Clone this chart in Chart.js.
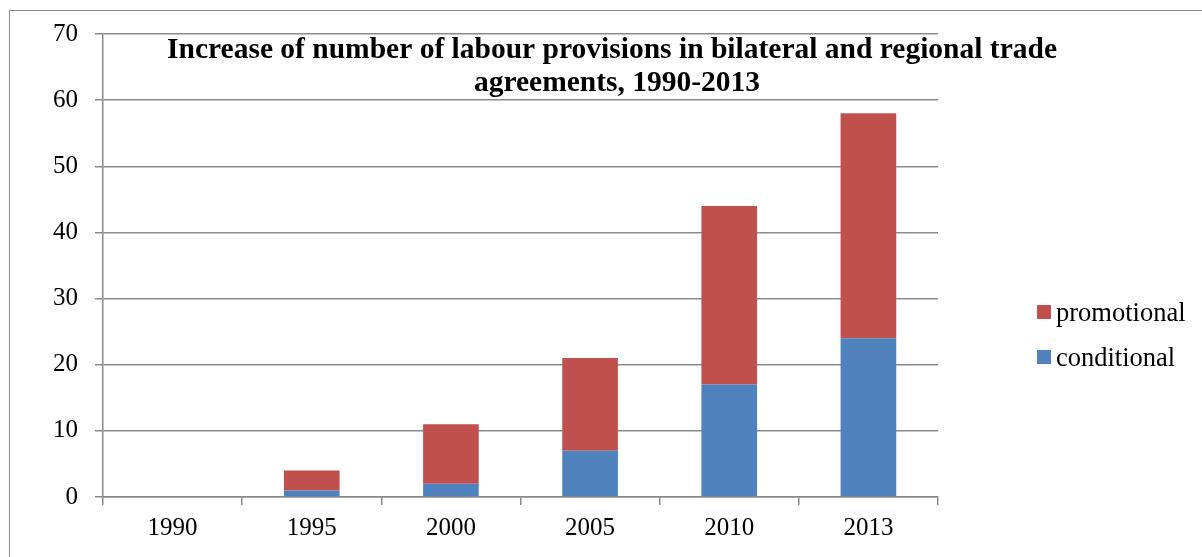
<!DOCTYPE html>
<html>
<head>
<meta charset="utf-8">
<script src="https://cdn.jsdelivr.net/npm/chart.js@4"></script>
<style>
    html, body { margin: 0; padding: 0; background: #fff; overflow: hidden; }
    #wrap { position: relative; width: 1202px; height: 557px; }
    #frame { position: absolute; left: 9px; top: 10px; width: 1210px; height: 560px; border: 1.5px solid #8a8a8a; box-sizing: border-box; pointer-events: none; }
</style>
</head>
<body>
<div id="wrap">
    <canvas id="tradeChart" width="1202" height="557"></canvas>
    <div id="frame"></div>
</div>
<script>
// Labour provisions in trade agreements
const years = ['1990', '1995', '2000', '2005', '2010', '2013'];
const conditional = [0, 1, 2, 7, 17, 24];
const promotional = [0, 3, 9, 14, 27, 34];
const titleLines = ['Increase of number of labour provisions in bilateral and regional trade', 'agreements, 1990-2013'];

const FONT = '"Liberation Serif", "Times New Roman", serif';
const GRID = '#8a8a8a';

// title sits over the plot, like the original
const titlePlugin = {
    id: 'overTitle',
    afterDraw(chart) {
        const c = chart.ctx;
        c.save();
        c.fillStyle = '#000';
        c.font = 'bold 29.5px ' + FONT;
        c.textAlign = 'center';
        c.textBaseline = 'alphabetic';
        c.fillText(titleLines[0], 612, 58);
        c.fillText(titleLines[1], 617, 91);
        c.restore();
    }
};

// legend drawn by hand so it can sit where the original has it
const sideLegend = {
    id: 'sideLegend',
    afterDraw(chart) {
        const c = chart.ctx;
        const items = chart.data.datasets.slice().reverse();
        c.save();
        c.font = '26.5px ' + FONT;
        c.textBaseline = 'alphabetic';
        c.textAlign = 'left';
        items.forEach((ds, i) => {
            const y = 305 + i * 45;
            c.fillStyle = ds.backgroundColor;
            c.fillRect(1037, y, 14, 14);
            c.fillStyle = '#000';
            c.fillText(ds.label, 1056, y + 16);
        });
        c.restore();
    }
};

new Chart(document.getElementById('tradeChart'), {
    type: 'bar',
    data: {
        labels: years,
        datasets: [
            {
                label: 'conditional',
                data: conditional,
                backgroundColor: '#4F81BD',
                borderWidth: 0,
                barPercentage: 0.4,
                categoryPercentage: 1
            },
            {
                label: 'promotional',
                data: promotional,
                backgroundColor: '#C0504D',
                borderWidth: 0,
                barPercentage: 0.4,
                categoryPercentage: 1
            }
        ]
    },
    options: {
        responsive: false,
        animation: false,
        layout: { padding: { left: 0, right: 264, top: 34, bottom: 0 } },
        plugins: {
            legend: { display: false },
            title: { display: false },
            tooltip: { enabled: false }
        },
        scales: {
            x: {
                stacked: true,
                offset: true,
                afterFit: function (scale) { scale.height = 60; },
                grid: { offset: true, drawOnChartArea: false, drawTicks: true, tickLength: 8, color: GRID, lineWidth: 1.5 },
                border: { display: true, color: GRID, width: 1.5 },
                ticks: { color: '#000', font: { family: FONT, size: 25 }, padding: 8, maxRotation: 0 }
            },
            y: {
                stacked: true,
                min: 0,
                max: 70,
                afterFit: function (scale) { scale.width = 103; },
                grid: { color: GRID, lineWidth: 1.5, drawTicks: true, tickLength: 8 },
                border: { display: true, color: GRID, width: 1.5 },
                ticks: { stepSize: 10, color: '#000', font: { family: FONT, size: 25 }, padding: 17 }
            }
        }
    },
    plugins: [titlePlugin, sideLegend]
});
</script>
</body>
</html>
